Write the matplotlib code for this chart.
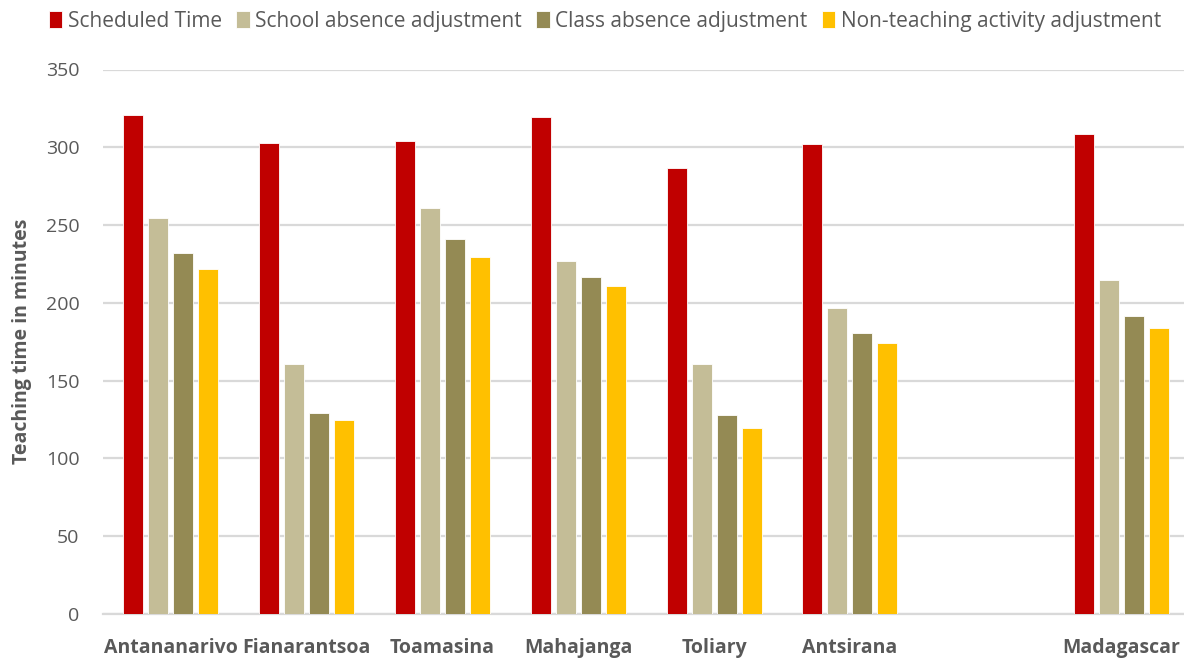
import matplotlib.pyplot as plt
import numpy as np

# Teaching time per region (minutes); the blank slot separates the national total
regions = ['Antananarivo', 'Fianarantsoa', 'Toamasina', 'Mahajanga',
           'Toliary', 'Antsirana', '', 'Madagascar']
scheduled = [320.8, 302.6, 304.0, 319.5, 286.5, 302.3, np.nan, 308.5]
school_abs = [254.8, 160.7, 261.2, 226.7, 160.7, 196.7, np.nan, 214.9]
class_abs = [232.1, 129.0, 240.9, 216.6, 127.8, 180.9, np.nan, 191.6]
non_teaching = [221.8, 124.7, 229.7, 211.1, 119.4, 174.4, np.nan, 183.9]

series = [
    ('Scheduled Time', scheduled, '#C00000'),
    ('School absence adjustment', school_abs, '#C4BD97'),
    ('Class absence adjustment', class_abs, '#948A54'),
    ('Non-teaching activity adjustment', non_teaching, '#FFC000'),
]

plt.rcParams['font.family'] = ['Open Sans', 'DejaVu Sans']
grey = '#595959'

fig = plt.figure(figsize=(11.84, 6.6), dpi=100)
ax = fig.add_axes([103 / 1184, (660 - 614) / 660, 1 - 103 / 1184, (614 - 69.5) / 660])

x = np.arange(len(regions))
step = 0.184
width = 0.147
for i, (name, vals, color) in enumerate(series):
    ax.bar(x + (i - 1.5) * step, vals, width, color=color, label=name,
           edgecolor='white', linewidth=0.6, zorder=3)

ax.set_ylim(0, 350)
ax.set_xlim(-0.5, 7.46)
ax.set_yticks(range(0, 351, 50))
ax.set_xticks(x)
ax.set_xticklabels(regions, fontsize=14, fontweight='bold', color=grey)
ax.tick_params(axis='y', labelsize=14, colors=grey, length=0, pad=17)
ax.tick_params(axis='x', length=0, pad=17)
ax.grid(axis='y', color='#D9D9D9', linewidth=1.6, zorder=0)
for s in ['top', 'right', 'left']:
    ax.spines[s].set_visible(False)
ax.spines['bottom'].set_color('#D9D9D9')
ax.spines['bottom'].set_linewidth(1.6)

ax.set_ylabel('Teaching time in minutes', fontsize=14, fontweight='bold',
              color=grey, labelpad=10)

fig.legend(loc='upper left', bbox_to_anchor=(30 / 1184, 1.012), ncol=4,
           frameon=False, fontsize=15, labelcolor=grey, handlelength=0.65,
           handleheight=0.9, handletextpad=0.25, columnspacing=0.7)

fig.savefig('out.png', dpi=100)
